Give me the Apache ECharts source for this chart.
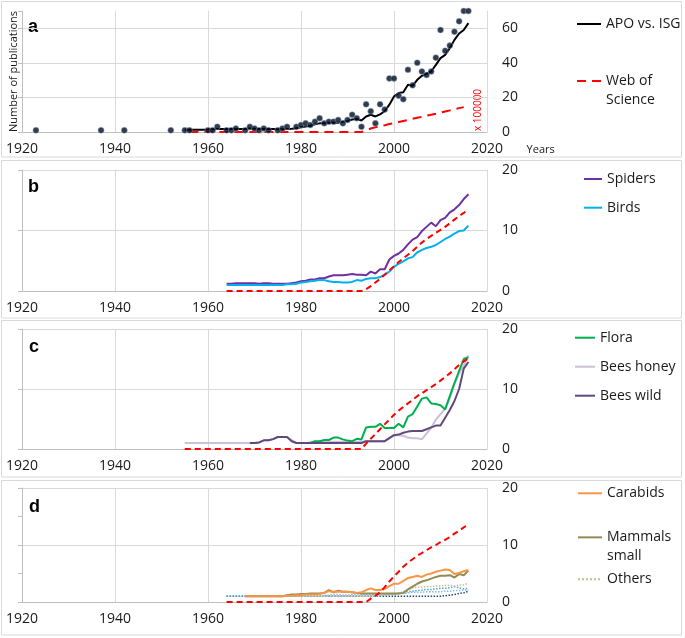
<!DOCTYPE html>
<html>
<head>
<meta charset="utf-8">
<script src="https://cdn.jsdelivr.net/npm/echarts@6/dist/echarts.min.js"></script>
<style>html,body{margin:0;padding:0;background:#fff}#c{width:685px;height:638px}</style>
</head>
<body>
<div id="c"></div>
<script>
// ---------- tick labels ----------
const xTickYears = [1920, 1940, 1960, 1980, 2000, 2020];
const yTicksA = [0, 20, 40, 60];
const yMaxA = 70;
const yTicksBCD = [0, 10, 20];

// ---------- panel a ----------
const scatterYearsA = [1923,1937,1942,1952,1955,1956,1960,1961,1962,1964,1965,1966,1968,1969,1970,1971,1972,1973,1975,1976,1977,1979,1980,1981,1982,1983,1984,1985,1986,1987,1988,1989,1990,1991,1992,1993,1994,1995,1996,1997,1998,1999,2000,2001,2002,2003,2004,2005,2006,2007,2008,2009,2010,2011,2012,2013,2014,2015,2016];
const scatterValsA  = [1,1,1,1,1,1,1,1,3,1,1,2,1,3,2,1,2,1,1,2,3,3,4,5,4,6,8,5,6,6,7,5,7,10,8,3,16,12,5,16,13,31,31,21,19,36,27,40,35,33,35,43,59,47,50,58,64,70,70];
const apoStart = 1955;
const apoVals = [1.3,1.3,1.3,1.3,1.3, 1.4,1.6,1.8,1.7,1.7, 1.7,1.8,1.8,1.8,2.0, 1.9,1.8,1.8,1.7,1.7,
  1.6,1.6,1.8,1.9,2.2, 2.7,3.2,3.6,4.4,5.0, 5.0,5.3,5.3,5.4,6.0, 6.4,7.2,7.5,6.7,9.0,
  10.0,9.0,10.2,12.0,15.8, 20.6,22.5,23.0,27.3,26.8, 30.2,32.5,33.7,35.0,38.8, 42.7,44.6,48.5,53.3,57.0, 59.0,63.0];
const wosStartA = 1956;
const wosValsA = [0,0,0,0, 0,0,0,0,0, 0,0,0,0,0, 0,0,0,0,0, 0,0,0,0,0, 0,0,0,0,0, 0,0,0,0,0, 0,0,0,0,
  1.0,2.0,2.7,3.3,3.9, 4.6,5.2,5.8,6.4,7.0, 7.6,8.2,8.8,9.4,10.0, 10.6,11.3,11.9,12.5,13.2, 13.8,14.4];

// ---------- panel b ----------
const startB = 1964;
const spidersVals = [1.2,1.2,1.3,1.3,1.3, 1.3,1.3,1.2,1.3,1.3, 1.2,1.2,1.2,1.2,1.3, 1.4,1.6,1.7,1.9,1.9,
  2.1,2.1,2.4,2.6,2.6, 2.6,2.7,2.8,2.7,2.7, 2.6,3.2,2.9,3.6,3.6, 5.2,5.8,6.2,6.8,7.7,
  8.5,8.9,9.9,10.6,11.3, 10.7,11.7,12.1,13.0,13.5, 14.2,15.2,16.0];
const birdsVals = [1.0,1.0,1.0,1.0,1.0, 1.0,1.0,1.0,1.0,1.0, 1.0,1.0,1.0,1.1,1.1, 1.2,1.4,1.5,1.6,1.7,
  1.8,1.8,1.6,1.5,1.5, 1.4,1.4,1.5,1.8,1.7, 2.0,2.1,2.1,2.3,2.7, 3.2,4.0,4.5,4.9,5.4,
  5.6,6.4,6.8,7.1,7.3, 7.6,8.1,8.6,9.0,9.5, 9.9,10.0,10.8];
const wosValsB = [0,0,0,0,0, 0,0,0,0,0, 0,0,0,0,0, 0,0,0,0,0, 0,0,0,0,0, 0,0,0,0,0,
  0.3,0.8,1.4,2.0,2.7, 3.4,4.1,4.8,5.4,6.0, 6.6,7.3,8.0,8.6,9.1, 9.6,10.1,10.6,11.2,11.8, 12.4,12.9,13.5];

// ---------- panel c ----------
const startC = 1955;
const honeyVals = [1,1,1,1,1, 1,1,1,1,1, 1,1,1,1,1.0, 1.0,1.1,1.45,1.45,1.65, 2.0,2.0,2.0,1.5,1.0,
  1.0,1.0,1.1,1.2,1.2, 1.2,1.2,1.2,1.2,1.2, 1.2,1.2,1.2,1.2,1.3, 1.3,1.3,1.3,1.3,1.8,
  2.3,2.3,2.2,1.9,1.8, 1.8,1.6,2.6,3.5,4.9, 5.8,6.7,8.5,10.8,12.6, 13.9,15.6];
const wildStart = 1969;
const wildVals = [1.0,1.0,1.1,1.45,1.45, 1.65,2.0,2.0,2.0,1.3, 1.0,1.0,1.0,1.0,1.0, 1.0,1.0,1.0,1.0,1.0,
  1.0,1.0,1.0,1.0,1.0, 1.3,1.3,1.3,1.3,1.3, 1.8,2.3,2.4,2.7,2.9, 3.0,3.0,3.0,3.3,3.6,
  3.9,3.9,5.2,6.5,8.0, 10.0,13.4,14.5];
const floraStart = 1982;
const floraVals = [1.0,1.3,1.3,1.5,1.5, 1.9,1.9,1.6,1.4,1.3, 1.7,1.6,3.6,3.7,3.7, 4.2,3.5,3.5,3.5,4.2,
  3.6,5.4,5.8,7.1,8.4, 8.6,7.6,7.5,7.3,6.6, 8.8,11.0,13.0,15.0,15.3];
const wosValsC = [0,0,0,0,0, 0,0,0,0,0, 0,0,0,0,0, 0,0,0,0,0, 0,0,0,0,0, 0,0,0,0,0, 0,0,0,0,0, 0,0,0,0,
  0.9,1.7,2.5,3.3,4.1, 4.9,5.7,6.4,7.0,7.6, 8.2,8.8,9.3,9.8,10.3, 10.8,11.4,12.0,12.6,13.3, 14.0,14.6,15.1];

// ---------- panel d ----------
const startD = 1964;
const wosValsD = [0,0,0,0,0, 0,0,0,0,0, 0,0,0,0,0, 0,0,0,0,0, 0,0,0,0,0, 0,0,0,0,0, 0,
  0.6,1.1,1.7,2.6,3.6, 4.5,5.3,6.2,6.9,7.5, 8.1,8.6,9.1,9.6,10.0, 10.5,10.9,11.4,12.0,12.5, 13.1,13.6];
const groupStartD = 1968;
const carabidsVals = [1.0,1.0,1.0,1.0,1.0, 1.0,1.0,1.0,1.0,1.1, 1.1,1.2,1.2,1.3,1.3, 1.3,1.4,1.6,1.9,1.8,
  1.8,1.8,1.8,1.7,1.6, 1.7,2.1,2.4,2.1,2.1, 2.3,2.8,3.2,3.2,3.7, 4.2,4.4,4.6,4.4,4.8,
  5.0,5.3,5.5,5.7,5.6, 4.9,5.1,5.4,5.6];
const mammalsVals = [1.0,1.0,1.0,1.0,1.0, 1.0,1.0,1.0,1.0,1.2, 1.3,1.3,1.4,1.4,1.5, 1.5,1.5,1.6,2.1,1.7,
  2.0,1.8,1.8,1.7,1.6, 1.5,1.5,1.5,1.5,1.5, 1.5,1.5,1.5,1.5,1.6, 2.2,2.7,3.2,3.6,3.8,
  4.1,4.4,4.6,4.6,4.7, 4.3,4.9,4.7,5.5];
const othersVals = [1.0,1.0,1.0,1.0,1.0, 1.0,1.0,1.0,1.0,1.0, 1.0,1.0,1.0,1.0,1.0, 1.0,1.0,1.0,1.0,1.0,
  1.0,1.0,1.0,1.0,1.0, 1.0,1.0,1.1,1.1,1.2, 1.2,1.3,1.4,1.6,1.8, 2.2,2.5,2.6,2.6,2.7,
  2.7,2.8,2.8,2.9,2.9, 2.8,3.0,3.0,3.3];
const othersNavyVals = [1.0,1.0,1.0,1.0,1.0, 1.0,1.0,1.0,1.0,1.0, 1.0,1.0,1.0,1.0,1.0, 1.0,1.0,1.0,1.0,1.0,
  1.0,1.0,1.0,1.0,1.0, 1.0,1.0,1.0,1.0,1.0, 1.0,1.0,1.0,1.0,1.0, 1.0,1.0,1.0,1.0,1.0,
  1.0,1.0,1.0,1.0,1.0, 1.0,1.0, 1.1,1.2,1.3,1.5,1.6,1.9];
const othersBlueVals = [1.0,1.0,1.0,1.0,1.0, 1.0,1.0,1.0,1.0,1.0, 1.0,1.0,1.0,1.0,1.0, 1.0,1.0,1.0,1.0,1.0,
  1.0,1.0,1.0,1.0,1.0, 1.0,1.0,1.0,1.0,1.0, 1.0,1.0,1.0,
  1.1,1.2,1.3,1.4,1.5, 1.6,1.8,1.9,2.0,2.1, 2.2,2.2,2.3,2.4,2.4, 2.5,2.7,2.5,2.3,2.4];
const othersLightStart = 1985;
const othersLightVals = [1.2,1.2,1.3,1.3,1.2, 1.2,1.3,1.3,1.3,1.3, 1.3,1.3,1.4,1.4,1.4, 1.4,1.5,1.5,1.6,1.7,
  1.7,1.7,1.8,1.8,1.8, 1.8,1.9,1.9,2.0,2.0, 2.1,2.1];

// ---------- build ----------
const seq = (start, vals) => vals.map((v, i) => [start + i, v]);
const F = '"Open Sans", "Liberation Sans", sans-serif';
const TXT = '#1a1a1a';
const GRID = '#d9d9d9';
const AX = '#bfbfbf';

const grids = [
  {left: 22, top: 11, width: 465, height: 121},
  {left: 22, top: 170, width: 465, height: 121},
  {left: 22, top: 329, width: 465, height: 120},
  {left: 22, top: 488, width: 465, height: 114}
];

const xAxes = grids.map((g, i) => ({
  type: 'value', gridIndex: i,
  min: xTickYears[0], max: xTickYears[xTickYears.length - 1], interval: xTickYears[1] - xTickYears[0],
  axisLine: {show: true, lineStyle: {color: AX}},
  axisTick: {show: false},
  axisLabel: {fontFamily: F, fontSize: 14, color: TXT, margin: 10, formatter: v => String(v)},
  splitLine: {show: true, lineStyle: {color: GRID}}
}));

const yRight = [0, 1, 2, 3].map(i => {
  const ticks = i === 0 ? yTicksA : yTicksBCD;
  return {
    type: 'value', gridIndex: i, position: 'right',
    min: ticks[0], max: i === 0 ? yMaxA : ticks[ticks.length - 1], interval: ticks[1] - ticks[0],
    axisLine: {show: false}, axisTick: {show: false},
    axisLabel: {fontFamily: F, fontSize: 14, color: TXT, margin: 15, showMaxLabel: i !== 0},
    splitLine: {show: true, showMaxLine: i !== 0, lineStyle: {color: GRID}}
  };
});
const leftTickInt = [20, 10, 10, 5];
const yLeft = [0, 1, 2, 3].map(i => ({
  type: 'value', gridIndex: i, position: 'left',
  min: 0, max: i === 0 ? yMaxA : yTicksBCD[yTicksBCD.length - 1], interval: leftTickInt[i],
  axisLine: {show: true, lineStyle: {color: AX}},
  axisTick: {show: true, length: 4, lineStyle: {color: AX}},
  axisLabel: {show: false}, splitLine: {show: false},
  name: i === 0 ? 'Number of publications' : '',
  nameLocation: 'middle', nameGap: 3,
  nameTextStyle: {fontFamily: F, fontSize: 11, color: TXT}
}));

function line(name, data, gi, color, width, type, z) {
  return {
    type: 'line', name: name, data: data, xAxisIndex: gi, yAxisIndex: gi,
    symbol: 'none', smooth: false, z: z || 2,
    lineStyle: {color: color, width: width, type: type || 'solid'},
    itemStyle: {color: color}
  };
}
const redDashA = [9, 6];
const redDash = [6, 4];

const series = [
  line('APO vs. ISG', seq(apoStart, apoVals), 0, '#000000', 2),
  {
    type: 'scatter', name: 'APO points', xAxisIndex: 0, yAxisIndex: 0,
    data: scatterYearsA.map((y, i) => [y, scatterValsA[i]]),
    symbolSize: 6, z: 3,
    itemStyle: {color: '#020a1c', borderColor: '#8fb1dc', borderWidth: 0.6}
  },
  line('Web of Science', seq(wosStartA, wosValsA), 0, '#ff0000', 2, redDashA),

  line('Spiders', seq(startB, spidersVals), 1, '#7030a0', 2),
  line('Birds', seq(startB, birdsVals), 1, '#00b0f0', 2),
  line('Web of Science', seq(startB, wosValsB), 1, '#ff0000', 2, redDash, 4),

  line('Bees honey', seq(startC, honeyVals), 2, '#ccc0da', 2),
  line('Flora', seq(floraStart, floraVals), 2, '#00b050', 2),
  line('Bees wild', seq(wildStart, wildVals), 2, '#604a7b', 2),
  line('Web of Science', seq(startC, wosValsC), 2, '#ff0000', 2, redDash, 4),

  line('Others 2', seq(startD, othersNavyVals), 3, '#1f497d', 1.5, 'dotted'),
  line('Others 3', seq(startD, othersBlueVals), 3, '#4bacc6', 1.5, 'dotted'),
  line('Others 4', seq(othersLightStart, othersLightVals), 3, '#8eb4e3', 1.5, 'dotted'),
  line('Others', seq(groupStartD, othersVals), 3, '#c4bd97', 1.5, 'dotted'),
  line('Mammals small', seq(groupStartD, mammalsVals), 3, '#948a54', 2),
  line('Carabids', seq(groupStartD, carabidsVals), 3, '#f79646', 2),
  line('Web of Science', seq(startD, wosValsD), 3, '#ff0000', 2, redDash, 4)
];

function legend(names, left, top, itemW, gap, lh) {
  return {
    data: names, orient: 'vertical', left: left, top: top, padding: 0,
    itemWidth: itemW, itemHeight: 16, itemGap: gap, selectedMode: false,
    itemStyle: {opacity: 0, borderWidth: 0},
    formatter: n => n === 'Web of Science' ? '\nWeb of\nScience' : (n === 'Mammals small' ? '\nMammals\nsmall' : n),
    textStyle: {fontFamily: F, fontSize: 14, color: TXT, lineHeight: lh}
  };
}

const legends = [
  legend(['APO vs. ISG'], 576, 16, 24, 10, 16),
  legend(['Web of Science'], 576, 52.5, 24, 10, 19),
  legend(['Spiders', 'Birds'], 583, 171, 18, 12.7, 16),
  legend(['Flora', 'Bees honey', 'Bees wild'], 574, 329.7, 20, 13, 16),
  legend(['Carabids'], 577, 485.3, 24, 10, 16),
  legend(['Mammals small'], 577, 509.3, 24, 10, 18.7),
  legend(['Others'], 577, 571.3, 24, 10, 16)
];

const box = (y, h) => ({type: 'rect', silent: true, z: -10,
  shape: {x: 1.5, y: y, width: 680, height: h},
  style: {fill: 'none', stroke: '#d9d9d9', lineWidth: 1}});
const letter = (t, x, y) => ({type: 'text', silent: true, x: x, y: y,
  style: {text: t, fill: '#000', font: 'bold 18px "Liberation Sans", Arial, sans-serif', align: 'left', verticalAlign: 'middle'}});

const graphics = [
  box(1.5, 155.5), box(160.5, 157.5), box(320.5, 156.5), box(480.5, 154.5),
  letter('a', 28, 27), letter('b', 28, 187), letter('c', 29, 347), letter('d', 29, 507),
  {type: 'text', silent: true, x: 478.5, y: 110, rotation: Math.PI / 2,
    style: {text: 'x 100000', fill: '#ff0000', font: '10px ' + F, align: 'center', verticalAlign: 'middle'}},
  {type: 'text', silent: true, x: 540.7, y: 150,
    style: {text: 'Years', fill: TXT, font: '11px ' + F, align: 'center', verticalAlign: 'middle'}}
];

const chart = echarts.init(document.getElementById('c'), null, {renderer: 'canvas'});
chart.setOption({
  animation: false,
  backgroundColor: '#ffffff',
  grid: grids,
  xAxis: xAxes,
  yAxis: yRight.concat(yLeft),
  legend: legends,
  series: series,
  graphic: graphics
});
</script>
</body>
</html>
